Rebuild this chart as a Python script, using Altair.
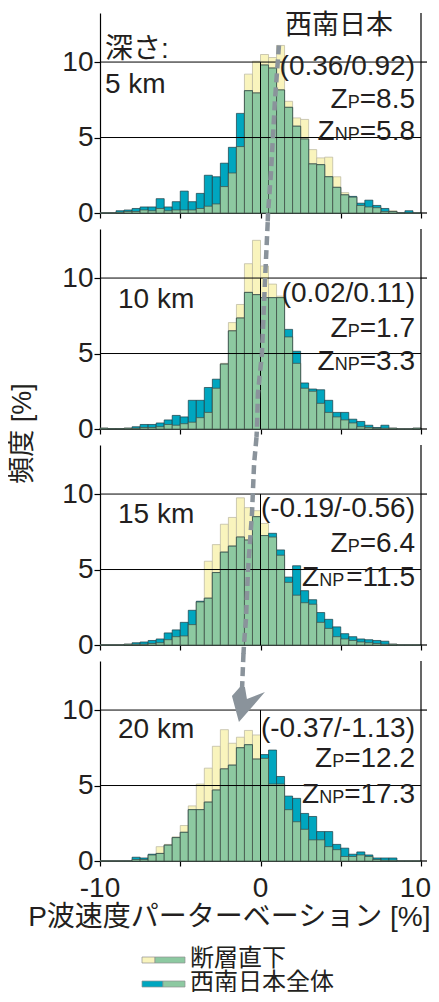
import altair as alt
import pandas as pd

# ---------------- data ----------------
bin_start = -10.0
bin_width = 0.5
n_bins = 40

depth_labels = ["5 km", "10 km", "15 km", "20 km"]
stat_labels = ["(0.36/0.92)", "(0.02/0.11)", "(-0.19/-0.56)", "(-0.37/-1.13)"]
zp_values = ["8.5", "1.7", "6.4", "12.2"]
znp_values = ["5.8", "3.3", "11.5", "17.3"]

# 断層直下 (beneath faults), frequency [%] per 0.5 % bin from -10 to 10
fault_5km = [0, 0, 0.05, 0.1, 0.1, 0.2, 0.15, 0.3, 0.15, 0.2, 0.2, 0.2, 0.3, 0.45, 0.6, 1.75,
             2.65, 4.4, 9.2, 10.05, 10.5, 10.3, 11.1, 7.4, 6.3, 6.2, 4.2, 3.65, 3.7, 2.4,
             1.35, 1.05, 0.5, 0.4, 0.35, 0.1, 0.15, 0, 0, 0]
fault_10km = [0.05, 0.03, 0.03, 0.05, 0.05, 0.1, 0.1, 0.15, 0.3, 0.25, 0.35, 0.45, 0.75, 1.1,
              2.7, 4.35, 7.05, 8.25, 10.95, 12.5, 10.8, 9.6, 8.8, 6.1, 4.35, 2.7, 2.5, 1.7,
              1.1, 0.8, 0.6, 0.4, 0.15, 0.1, 0.05, 0.05, 0.05, 0, 0, 0.05]
fault_15km = [0, 0, 0, 0.05, 0.05, 0.05, 0.1, 0.15, 0.35, 0.55, 0.6, 1.35, 2.85, 5.55, 6.65,
              8.0, 8.45, 9.75, 9.1, 8.9, 8.05, 7.15, 5.95, 4.15, 3.3, 2.8, 2.7, 1.5, 1.1,
              0.55, 0.4, 0.3, 0.2, 0.15, 0.1, 0.05, 0.05, 0, 0, 0]
fault_20km = [0, 0, 0, 0, 0.1, 0.1, 0.4, 0.95, 1.1, 1.6, 2.35, 3.65, 5.1, 6.15, 7.6, 8.7,
              7.8, 8.2, 8.65, 8.35, 6.8, 5.1, 5.1, 3.4, 2.6, 2.1, 1.4, 1.4, 0.95, 0.75,
              0.3, 0.3, 0.4, 0.3, 0.1, 0.05, 0.05, 0, 0, 0]

# 西南日本全体 (all of SW Japan)
whole_5km = [0, 0, 0.15, 0.2, 0.3, 0.4, 0.4, 0.95, 0.4, 0.75, 1.45, 0.75, 1.3, 2.5, 2.4, 3.3,
             4.35, 6.6, 8.1, 7.95, 9.8, 9.6, 8.15, 7.0, 5.75, 4.9, 3.25, 3.2, 2.4, 1.7,
             1.2, 1.1, 0.65, 0.85, 0.5, 0.3, 0.1, 0, 0.15, 0]
whole_10km = [0.05, 0.03, 0.03, 0.05, 0.15, 0.3, 0.3, 0.4, 0.6, 0.9, 0.8, 1.9, 1.9, 2.75,
              3.3, 4.3, 6.5, 7.35, 9.05, 8.9, 8.7, 8.7, 8.7, 6.6, 5.15, 3.05, 2.65, 2.6,
              1.9, 1.1, 1.1, 0.65, 0.5, 0.25, 0.1, 0.25, 0.05, 0, 0, 0.05]
whole_15km = [0, 0, 0, 0.05, 0.15, 0.2, 0.3, 0.4, 0.8, 1.0, 1.5, 2.3, 2.9, 3.1, 4.8, 6.15,
              6.55, 7.15, 6.95, 8.5, 7.25, 7.4, 6.3, 4.5, 5.25, 3.6, 3.0, 2.15, 1.7, 1.2,
              0.75, 0.55, 0.4, 0.35, 0.3, 0.25, 0.05, 0, 0, 0]
whole_20km = [0, 0, 0, 0, 0.25, 0.2, 0.45, 0.5, 1.05, 1.55, 1.9, 3.4, 3.4, 3.9, 4.7, 6.1,
              6.35, 7.5, 7.7, 6.75, 7.05, 7.35, 5.6, 4.3, 4.15, 3.15, 2.95, 1.95, 1.95, 1.1,
              0.85, 0.45, 0.6, 0.4, 0.2, 0.2, 0.2, 0, 0, 0]

fault_series = [fault_5km, fault_10km, fault_15km, fault_20km]
whole_series = [whole_5km, whole_10km, whole_15km, whole_20km]

x_ticks = [-10, -5, 0, 5, 10]
x_labelled = [-10, 0]
x_label_text = ["-10", "0"]
x_last_label = (10, "10")
y_ticks = [0, 5, 10]
grid_values = [5, 10]

# shift of the peak (dashed arrow), in chart units (x: %, y: frequency %)
arrow_x = [[1.15, 0.90, 0.65, 0.47, 0.45],
           [0.45, 0.28, 0.09, -0.16, -0.22, -0.25],
           [-0.25, -0.40, -0.53, -0.78, -0.90, -1.03, -1.06],
           [-1.06, -1.15]]
arrow_y = [[11.1, 7.46, 2.63, 0.0, -0.55],
           [13.71, 9.82, 5.01, 2.37, 0.0, -0.53],
           [13.76, 12.0, 8.71, 4.93, 1.81, 0.0, -0.58],
           [13.77, 11.4]]
arrow_head = (-0.97, 10.46)

# ---------------- styles ----------------
YELLOW = "#f9f4bd"
TEAL = "#00a6bf"
GREEN = "#8dc9a1"
ARROW = "#8a939b"
INK = "#231f20"
LATIN = "Liberation Sans"
MIXED = "Liberation Sans, Noto Sans CJK JP"
W, H = 321, 200
SPACING = 16
FS = 28

# Arial/Liberation advance widths (em) for placing the sub-letter labels
ADV = {"=": 0.584, ".": 0.278, "P": 0.667, "N": 0.722, "Z": 0.611}
for d in "0123456789":
    ADV[d] = 0.556


def one():
    return alt.Data(values=[{"a": 1}])


def text_layer(s, x, y, size=FS, align="right", font=LATIN):
    return alt.Chart(one()).mark_text(
        text=s, align=align, baseline="alphabetic", font=font, fontSize=size, color=INK
    ).encode(x=alt.value(x), y=alt.value(y))


def z_layers(sub, value, y, xr=315, small=18):
    tail = "=" + value
    w_tail = sum(ADV[c] for c in tail) * FS
    w_sub = sum(ADV[c] for c in sub) * small
    return [
        text_layer(tail, xr, y),
        text_layer(sub, xr - w_tail, y, size=small),
        text_layer("Z", xr - w_tail - w_sub, y),
    ]


text_rows = [
    # stat y, zp y, znp y, depth x, depth y
    (62, 95, 127, 5, 80),
    (73, 108, 141, 18, 79),
    (72, 107, 141, 18, 78),
    (76, 106, 142, 18, 77),
]


def make_panel(k):
    fault = fault_series[k]
    whole = whole_series[k]
    df = pd.DataFrame({
        "lo": [bin_start + i * bin_width for i in range(n_bins)],
        "fault": fault,
        "whole": whole,
    })
    df["hi"] = df["lo"] + bin_width
    df["both"] = df[["fault", "whole"]].min(axis=1)

    last = k == 3
    xs = alt.Scale(domain=[-10, 10], nice=False, zero=False)
    ys = alt.Scale(domain=[0, 13.25], nice=False, zero=False)

    xkw = dict(values=x_ticks, tickSize=5, labels=False, grid=False)
    if last:
        xkw.update(title="P波速度パーターベーション [%]", titleX=330, titleY=64,
                   titleAlign="right", titleBaseline="alphabetic", titleFont=MIXED,
                   titleFontSize=28)
    else:
        xkw.update(title=None)
    ykw = dict(values=y_ticks, tickSize=6, labelPadding=1, grid=False)
    if k == 1:
        ykw.update(title="頻度 [%]", titleX=-78, titleY=204, titleAngle=-90,
                   titleAlign="center", titleBaseline="middle", titleFont=MIXED,
                   titleFontSize=27)
    else:
        ykw.update(title=None)

    base = alt.Chart(df)
    fault_bars = base.mark_rect(color=YELLOW, stroke="#b8b49e", strokeWidth=0.7).encode(
        x=alt.X("lo:Q", scale=xs, axis=alt.Axis(**xkw)),
        x2="hi:Q",
        y=alt.Y("fault:Q", scale=ys, axis=alt.Axis(**ykw)),
        y2=alt.datum(0),
    )
    whole_bars = base.mark_rect(color=TEAL, stroke="#1b3c44", strokeWidth=0.7).encode(
        x="lo:Q", x2="hi:Q", y="whole:Q", y2=alt.datum(0)
    )
    both_bars = base.mark_rect(color=GREEN, stroke="#3f4a44", strokeWidth=0.7).encode(
        x="lo:Q", x2="hi:Q", y="both:Q", y2=alt.datum(0)
    )
    grid = alt.Chart(pd.DataFrame({"g": grid_values})).mark_rule(
        color="black", strokeWidth=1
    ).encode(y="g:Q")
    right_ticks = alt.Chart(pd.DataFrame({"g": [0, 10]})).mark_rule(
        color="black", strokeWidth=1.2
    ).encode(y="g:Q", x=alt.value(W), x2=alt.value(W + 6))
    right_domain = alt.Chart(one()).mark_rule(color="black", strokeWidth=1.2).encode(
        x=alt.value(W), y=alt.value(0), y2=alt.value(H)
    )
    zero_line = alt.Chart(one()).mark_rule(color="black", strokeWidth=1).encode(
        x=alt.datum(0), y=alt.datum(0), y2=alt.datum(10)
    )

    sy, zpy, znpy, dx, dy = text_rows[k]
    texts = [text_layer(stat_labels[k], 315, sy),
             text_layer(depth_labels[k], dx, dy, align="left")]
    texts += z_layers("P", zp_values[k], zpy)
    texts += z_layers("NP", znp_values[k], znpy)
    if k == 0:
        texts.append(text_layer("深さ:", 5, 45, align="left", font=MIXED))
        texts.append(text_layer("西南日本", 293, 21, size=27, font=MIXED))

    arrow_df = pd.DataFrame({"x": arrow_x[k], "y": arrow_y[k],
                             "o": list(range(len(arrow_x[k])))})
    arrow = alt.Chart(arrow_df).mark_line(
        color=ARROW, strokeWidth=4.5, strokeDash=[9, 5], clip=False
    ).encode(x="x:Q", y="y:Q", order="o:Q")

    layers = [fault_bars, whole_bars, both_bars, grid, right_ticks, right_domain,
              zero_line] + texts + [arrow]

    if last:
        # x tick labels (the right-most one is kept inside the page)
        lab_df = pd.DataFrame({"v": x_labelled, "t": x_label_text})
        layers.append(alt.Chart(lab_df).mark_text(
            baseline="alphabetic", align="center", font=LATIN, fontSize=FS, color=INK
        ).encode(x="v:Q", y=alt.value(H + 36), text="t:N"))
        layers.append(alt.Chart(pd.DataFrame({"v": [x_last_label[0]], "t": [x_last_label[1]]}))
                      .mark_text(baseline="alphabetic", align="right", dx=10, font=LATIN,
                                 fontSize=FS, color=INK)
                      .encode(x="v:Q", y=alt.value(H + 36), text="t:N"))

        head = alt.Chart(one()).mark_point(
            shape="M -0.25 -0.8 L -0.65 -0.35 L -0.3 0.95 L 1 -0.55 L 0.1 -0.2 L 0 -0.8 Z",
            filled=True, size=1600, color=ARROW, opacity=1, clip=False
        ).encode(x=alt.datum(arrow_head[0]), y=alt.datum(arrow_head[1]))
        layers.append(head)

        # legend
        def sw(x0, x1, y0, y1, c):
            return alt.Chart(one()).mark_rect(color=c, stroke="#8f8f8f", strokeWidth=0.7).encode(
                x=alt.value(x0), x2=alt.value(x1), y=alt.value(y0), y2=alt.value(y1))
        layers += [
            sw(42, 55, 296, 302, YELLOW), sw(55, 85, 296, 302, GREEN),
            sw(42, 63, 320, 326, TEAL), sw(63, 85, 320, 326, GREEN),
            text_layer("断層直下", 90, 305, size=24, align="left", font=MIXED),
            text_layer("西南日本全体", 90, 329, size=24, align="left", font=MIXED),
        ]

    return alt.layer(*layers).properties(width=W, height=H)


panels = [make_panel(k) for k in range(4)]

# fixed box: plot origin at (100, 13) on the page; svg 423 x 984 so that the
# page (with its 8px margins) stays inside 439 x 1002.
# (with autosize "none" the concat view gets width=W and height=0, so the
#  padding supplies the rest of the box)
SVG_W, SVG_H = 423, 984
chart = alt.vconcat(*panels, spacing=SPACING, bounds="flush").properties(
    autosize=alt.AutoSizeParams(type="none"),
    padding={"left": 92, "top": 5, "right": SVG_W - 92 - W, "bottom": SVG_H - 5},
).configure_view(stroke=None).configure_axis(
    domainColor="black", tickColor="black", domainWidth=1.2, tickWidth=1.2,
    labelColor=INK, titleColor=INK, labelFont=LATIN, labelFontSize=FS,
    titleFontWeight="normal",
)

chart.save("out.html", embed_options={"renderer": "svg", "actions": False})
